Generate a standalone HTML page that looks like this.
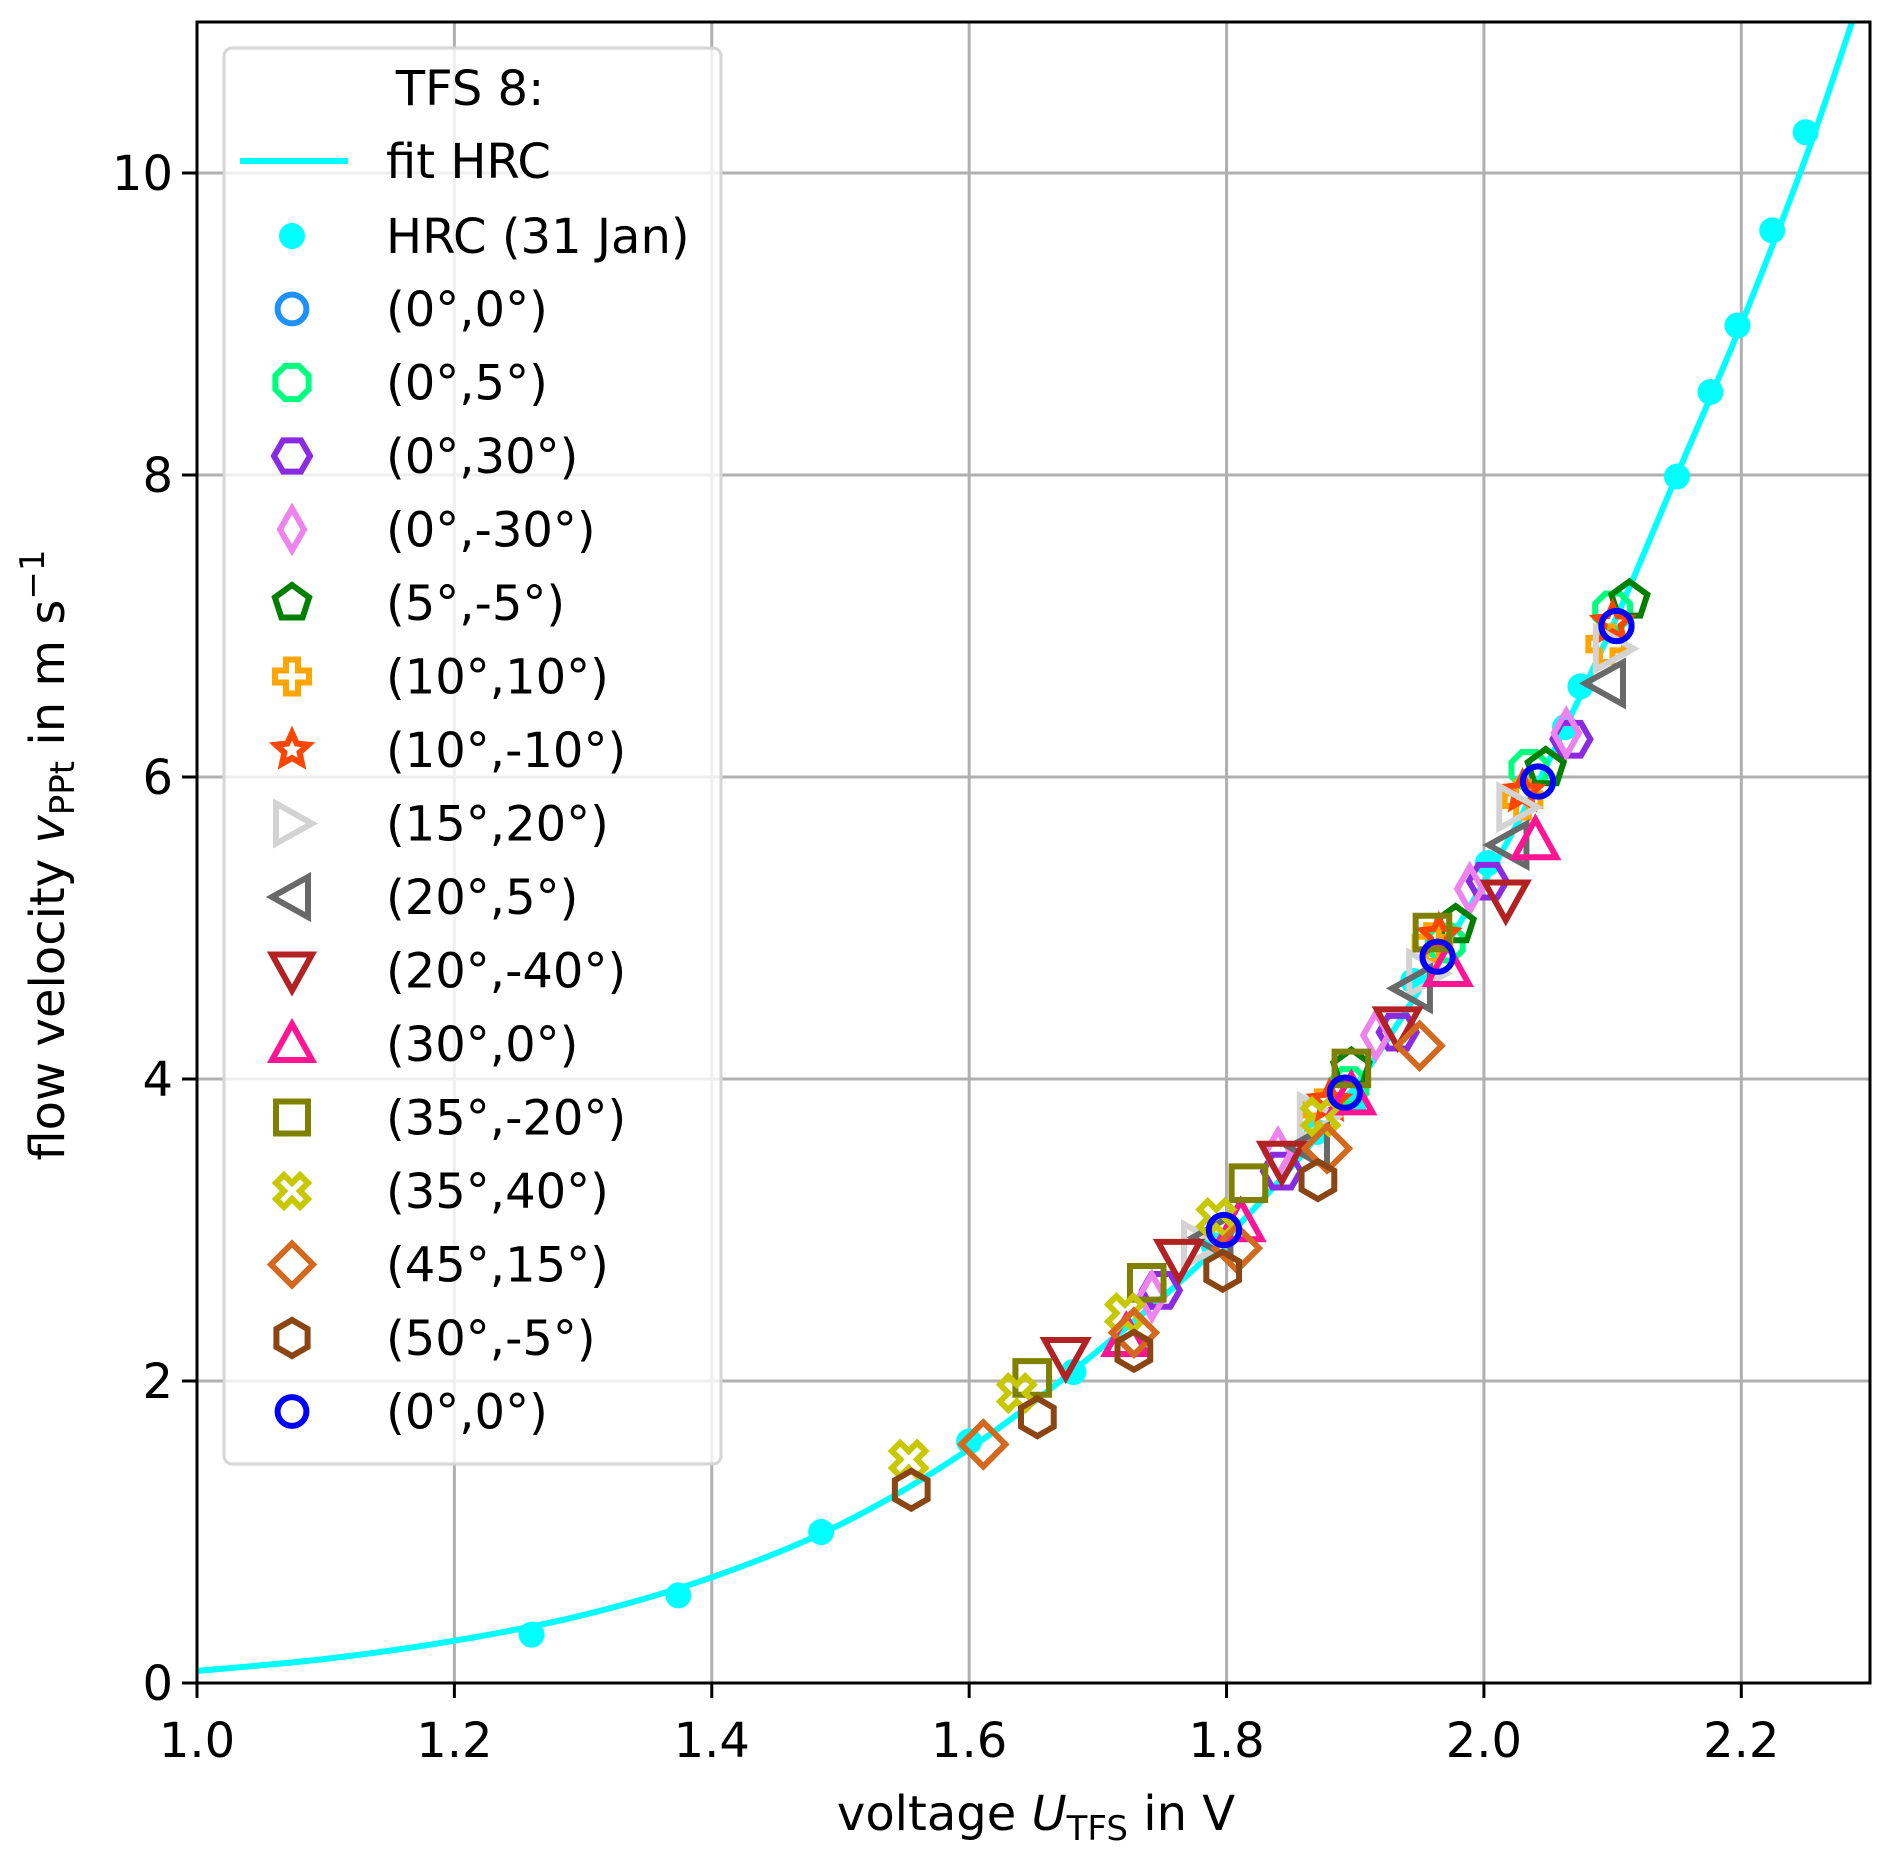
<!DOCTYPE html>
<html><head><meta charset="utf-8"><style>
html,body{margin:0;padding:0;background:#fff;}
svg{display:block;font-family:"DejaVu Sans","Liberation Sans",sans-serif;}
</style></head><body>
<svg id="chart" width="1892" height="1857" viewBox="0 0 1892 1857" xmlns="http://www.w3.org/2000/svg">
<g id="grid"></g>
<g id="plot"></g>
<g id="axes"></g>
<g id="legend"></g>
</svg>
<script>
const xTicks=[1.0,1.2,1.4,1.6,1.8,2.0,2.2];
const xTickLabels=["1.0","1.2","1.4","1.6","1.8","2.0","2.2"];
const yTicks=[0,2,4,6,8,10];
const yTickLabels=["0","2","4","6","8","10"];
const fitX=[1.0,1.1,1.2,1.3,1.4,1.5,1.6,1.7,1.8,1.9,2.0,2.05,2.1,2.15,2.2,2.25,2.29];
const fitY=[0.08,0.16,0.28,0.45,0.70,1.05,1.55,2.20,2.95,3.95,5.30,6.10,7.00,8.00,9.00,10.10,11.10];
const hrcX=[1.26,1.374,1.485,1.60,1.681,1.79,1.87,1.90,1.945,2.003,2.063,2.075,2.15,2.176,2.197,2.224,2.25];
const hrcY=[0.32,0.58,1.00,1.60,2.06,2.90,3.65,3.85,4.65,5.43,6.33,6.60,7.99,8.55,8.99,9.62,10.27];
const sNames=["(0°,0°)","(0°,5°)","(0°,30°)","(0°,-30°)","(5°,-5°)","(10°,10°)","(10°,-10°)","(15°,20°)","(20°,5°)","(20°,-40°)","(30°,0°)","(35°,-20°)","(35°,40°)","(45°,15°)","(50°,-5°)","(0°,0°)"];
const sX=[
[1.798,1.892,1.964,2.042,2.103],
[1.895,1.970,2.035,2.100],
[1.749,1.843,1.933,2.003,2.068],
[1.742,1.840,1.916,1.989,2.064],
[1.897,1.978,2.048,2.113],
[1.875,1.960,2.030,2.095],
[1.880,1.965,2.030,2.100],
[1.780,1.870,1.955,2.025,2.100],
[1.790,1.865,1.945,2.020,2.095],
[1.675,1.763,1.843,1.933,2.017],
[1.722,1.811,1.897,1.972,2.040],
[1.649,1.738,1.817,1.897,1.960],
[1.553,1.637,1.721,1.792,1.873],
[1.611,1.728,1.808,1.878,1.950],
[1.555,1.653,1.728,1.797,1.871],
[1.798,1.892,1.964,2.042,2.103]];
const sY=[
[3.00,3.91,4.81,5.97,7.00],
[3.95,4.90,6.05,7.10],
[2.60,3.39,4.31,5.31,6.25],
[2.56,3.51,4.29,5.26,6.29],
[4.07,5.02,6.06,7.17],
[3.80,4.90,5.85,6.88],
[3.85,4.95,5.90,7.02],
[2.90,3.75,4.70,5.80,6.85],
[2.95,3.55,4.60,5.55,6.62],
[2.16,2.81,3.46,4.35,5.19],
[2.29,3.05,3.89,4.74,5.58],
[2.02,2.65,3.31,4.07,4.97],
[1.48,1.92,2.45,3.08,3.75],
[1.58,2.32,2.88,3.54,4.22],
[1.28,1.76,2.20,2.73,3.33],
[3.00,3.91,4.81,5.97,7.00]];
const sColors=["#1e90ff","#00ff7f","#8a2be2","#ee82ee","#008000","#ffa500","#ff4500","#d3d3d3","#696969","#b22222","#ff1493","#808000","#c8c800","#d2691e","#8b4513","#0000ff"];
const sMarkers=["o","8","H","d","p","P","*",">","<","v","^","s","X","D","h","o"];

const L=197,R=1870,T=22,B=1683,X0=1.0,X1=2.3,Y0=0,Y1=11;
const sx=v=>L+(v-X0)/(X1-X0)*(R-L);
const sy=v=>B-(v-Y0)/(Y1-Y0)*(B-T);
const NS="http://www.w3.org/2000/svg";
function mk(tag,attrs,parent){const e=document.createElementNS(NS,tag);for(const k in attrs)e.setAttribute(k,attrs[k]);parent.appendChild(e);return e;}
function poly(n,r,rot){let p=[];for(let i=0;i<n;i++){const a=rot+i*2*Math.PI/n;p.push([r*Math.cos(a),r*Math.sin(a)]);}return p;}
function markerPath(m,s){
  let pts;
  const r=s;
  switch(m){
    case "8": pts=poly(8,r*0.9,Math.PI/8);break;
    case "H": pts=poly(6,r*0.9,0);break;
    case "h": pts=poly(6,r*0.9,-Math.PI/2);break;
    case "p": pts=poly(5,r*0.9,-Math.PI/2);break;
    case "s": pts=[[-r*0.8,-r*0.8],[r*0.8,-r*0.8],[r*0.8,r*0.8],[-r*0.8,r*0.8]];break;
    case "D": pts=[[0,-r*1.05],[r*1.05,0],[0,r*1.05],[-r*1.05,0]];break;
    case "d": pts=[[0,-r*1.05],[r*0.6,0],[0,r*1.05],[-r*0.6,0]];break;
    case "^": pts=[[0,-r],[r,r*0.8],[-r,r*0.8]];break;
    case "v": pts=[[0,r],[r,-r*0.8],[-r,-r*0.8]];break;
    case ">": pts=[[r,0],[-r*0.8,r],[-r*0.8,-r]];break;
    case "<": pts=[[-r,0],[r*0.8,r],[r*0.8,-r]];break;
    case "*": {pts=[];for(let i=0;i<10;i++){const a=-Math.PI/2+i*Math.PI/5;const rr=i%2?r*0.4:r*0.85;pts.push([rr*Math.cos(a),rr*Math.sin(a)]);}break;}
    case "P": {const a=r*0.3,b=r*0.85;pts=[[-a,-b],[a,-b],[a,-a],[b,-a],[b,a],[a,a],[a,b],[-a,b],[-a,a],[-b,a],[-b,-a],[-a,-a]];break;}
    case "X": {const a=r*0.28,b=r*0.85;const base=[[-a,-b],[a,-b],[a,-a],[b,-a],[b,a],[a,a],[a,b],[-a,b],[-a,a],[-b,a],[-b,-a],[-a,-a]];const c=Math.SQRT1_2;pts=base.map(([x,y])=>[(x-y)*c,(x+y)*c]);break;}
  }
  return "M"+pts.map(p=>p[0].toFixed(2)+","+p[1].toFixed(2)).join("L")+"Z";
}
function drawMarker(parent,m,color,cx,cy,size){
  if(m==="o"){return mk("circle",{cx:cx,cy:cy,r:size*0.72,fill:"none",stroke:color,"stroke-width":6},parent);}
  const d=markerPath(m,size);
  return mk("path",{d:d,transform:`translate(${cx},${cy})`,fill:"none",stroke:color,"stroke-width":6,"stroke-linejoin":"miter"},parent);
}

const grid=document.getElementById('grid');
xTicks.forEach((t,i)=>{const l=mk("line",{x1:sx(t),x2:sx(t),y1:T,y2:B,stroke:"#b0b0b0","stroke-width":3},grid);

});
yTicks.forEach((t,i)=>{const l=mk("line",{x1:L,x2:R,y1:sy(t),y2:sy(t),stroke:"#b0b0b0","stroke-width":3},grid);

});

const plot=document.getElementById('plot');
const clip=mk("clipPath",{id:"clipA"},mk("defs",{},plot));
mk("rect",{x:L,y:T,width:R-L,height:B-T},clip);
const pg=mk("g",{"clip-path":"url(#clipA)"},plot);
const P=fitX.map((x,i)=>[sx(x),sy(fitY[i])]);
let d="M"+P[0][0]+","+P[0][1];
for(let i=0;i<P.length-1;i++){const p0=P[i-1]||P[i],p1=P[i],p2=P[i+1],p3=P[i+2]||P[i+1];
d+=`C${p1[0]+(p2[0]-p0[0])/6},${p1[1]+(p2[1]-p0[1])/6} ${p2[0]-(p3[0]-p1[0])/6},${p2[1]-(p3[1]-p1[1])/6} ${p2[0]},${p2[1]}`;}
const fit=mk("path",{d:d,fill:"none",stroke:"#00ffff","stroke-width":6},pg);


hrcX.forEach((x,i)=>{const c=mk("circle",{cx:sx(x),cy:sy(hrcY[i]),r:13,fill:"#00ffff"},pg);

});
sX.forEach((xs,k)=>{const g=mk("g",{},pg);


xs.forEach((x,i)=>{const m=drawMarker(g,sMarkers[k],sColors[k],sx(x),sy(sY[k][i]),21);

});});

const axes=document.getElementById('axes');
const frame=mk("rect",{x:L,y:T,width:R-L,height:B-T,fill:"none",stroke:"#000","stroke-width":3},axes);


xTicks.forEach((t,i)=>{mk("line",{x1:sx(t),x2:sx(t),y1:B,y2:B+15,stroke:"#000","stroke-width":3},axes);
const tx=mk("text",{x:sx(t),y:B+74,"font-size":48,"text-anchor":"middle"},axes);tx.textContent=xTickLabels[i];

});
yTicks.forEach((t,i)=>{mk("line",{x1:L-15,x2:L,y1:sy(t),y2:sy(t),stroke:"#000","stroke-width":3},axes);
const tx=mk("text",{x:L-24,y:sy(t)+17,"font-size":48,"text-anchor":"end"},axes);tx.textContent=yTickLabels[i];

});
</script>
<script>
(function(){
const svg=document.getElementById('chart');
const xl=document.createElementNS(NS,"text");
xl.setAttribute("x","1036");xl.setAttribute("y","1830");xl.setAttribute("font-size","48");xl.setAttribute("text-anchor","middle");
xl.innerHTML='voltage <tspan font-style="italic">U</tspan><tspan font-size="34" dy="10">TFS</tspan><tspan dy="-10"> in V</tspan>';


svg.appendChild(xl);
const yl=document.createElementNS(NS,"text");
yl.setAttribute("transform","translate(64,855) rotate(-90)");yl.setAttribute("font-size","48");yl.setAttribute("text-anchor","middle");
yl.innerHTML='flow velocity <tspan font-style="italic">v</tspan><tspan font-size="34" dy="10">PPt</tspan><tspan dy="-10"> in m s</tspan><tspan font-size="34" dy="-20">−1</tspan>';


svg.appendChild(yl);

const lg=document.getElementById('legend');
const bx=document.createElementNS(NS,"rect");
bx.setAttribute("x","224");bx.setAttribute("y","48");bx.setAttribute("width","497");bx.setAttribute("height","1416");bx.setAttribute("rx","8");
bx.setAttribute("fill","rgba(255,255,255,0.8)");bx.setAttribute("stroke","#d6d6d6");bx.setAttribute("stroke-width","3");


lg.appendChild(bx);
function txt(x,y,s,anchor){const t=document.createElementNS(NS,"text");t.setAttribute("x",x);t.setAttribute("y",y);t.setAttribute("font-size","48");if(anchor)t.setAttribute("text-anchor",anchor);t.textContent=s;lg.appendChild(t);return t;}
const tt=txt(470,105,"TFS 8:","middle");


const ln=document.createElementNS(NS,"line");
ln.setAttribute("x1","240");ln.setAttribute("x2","348");ln.setAttribute("y1","161");ln.setAttribute("y2","161");ln.setAttribute("stroke","#00ffff");ln.setAttribute("stroke-width","6");


lg.appendChild(ln);
const t1=txt(386,178,"fit HRC");


const dc=document.createElementNS(NS,"circle");
dc.setAttribute("cx","292");dc.setAttribute("cy","236");dc.setAttribute("r","13");dc.setAttribute("fill","#00ffff");lg.appendChild(dc);


const t2=txt(386,253,"HRC (31 Jan)");


sNames.forEach((n,k)=>{const y=309+k*73.5;
const m=drawMarker(lg,sMarkers[k],sColors[k],292,y,20);


const t=txt(386,y+17,n);

});
})();
</script>
</body></html>
